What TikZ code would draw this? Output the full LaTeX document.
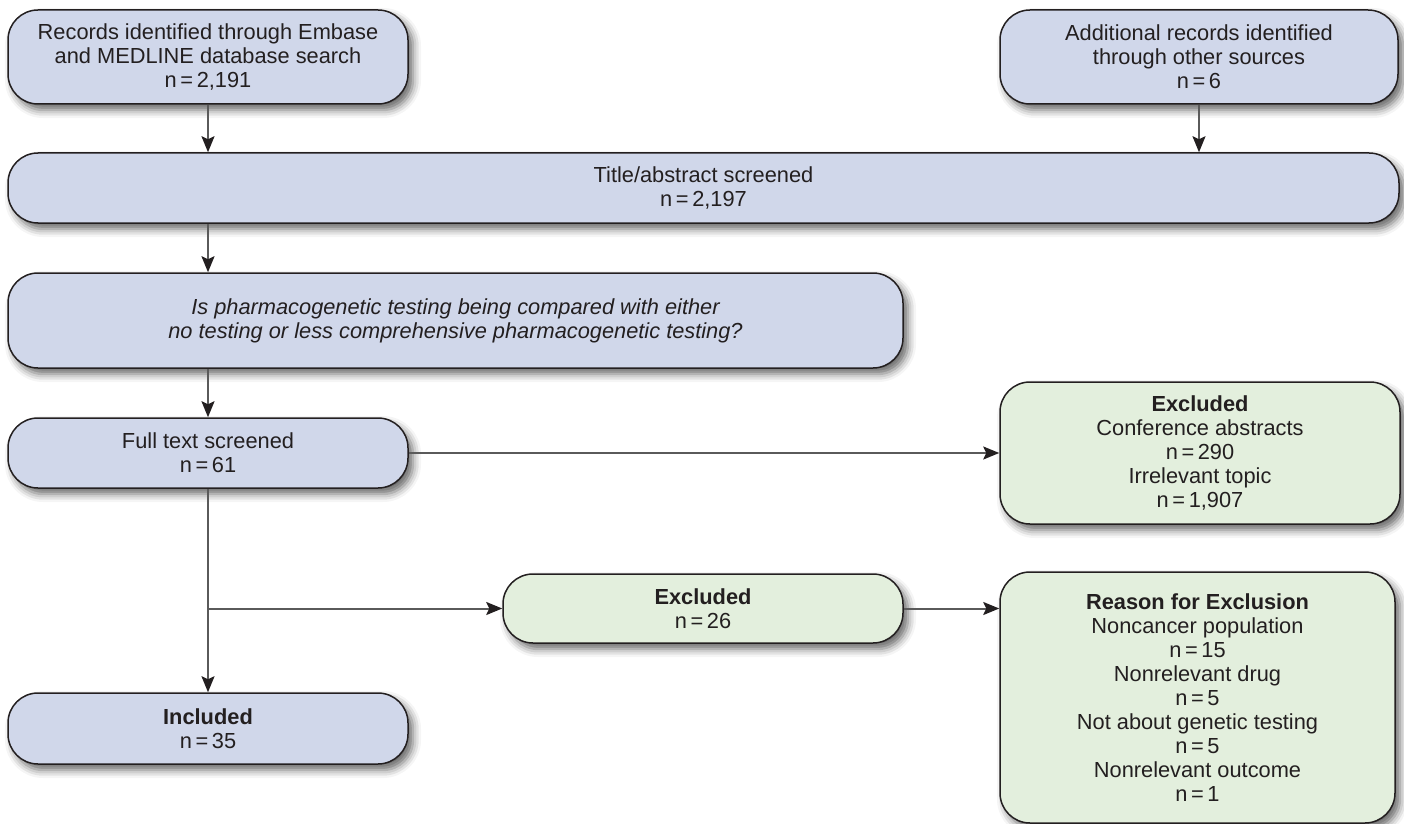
\documentclass[tikz,border=0pt]{standalone}
\usepackage{fontspec}
\setmainfont{Liberation Sans}
\usepackage{tikz}
\usetikzlibrary{arrows.meta,shadows.blur}

\definecolor{boxblue}{RGB}{208,215,234}
\definecolor{boxgreen}{RGB}{227,239,221}
\definecolor{linegray}{RGB}{90,90,90}
\definecolor{inkdark}{RGB}{35,31,32}

\tikzset{
	flowbox/.style={draw=inkdark, line width=0.75pt, rounded corners=15pt, align=center,
		text=inkdark, inner sep=0pt, font=\fontsize{10.9}{12}\selectfont,
		blur shadow={shadow xshift=2.5pt, shadow yshift=-3pt, shadow blur radius=4pt, shadow opacity=60}},
	bluebox/.style={flowbox, fill=boxblue},
	greenbox/.style={flowbox, fill=boxgreen},
	flowarrow/.style={draw=linegray, line width=1pt, -{Stealth[length=8pt, width=6.5pt, inset=1.5pt, color=inkdark]}},
	flowline/.style={draw=linegray, line width=1pt}
}

\begin{document}
\begin{tikzpicture}[x=0.5pt, y=-0.5pt]
				\useasboundingbox (0,0) rectangle (1404,824);
				% identification
				\node[bluebox, minimum width=200pt, minimum height=47pt] (records) at (208,57) {Records identified through Embase\\and MEDLINE database search\\n\,=\,2,191};
				\node[bluebox, minimum width=199pt, minimum height=47pt] (other) at (1199,57) {Additional records identified\\through other sources\\n\,=\,6};
				% screening
				\node[bluebox, minimum width=695.5pt, minimum height=35pt] (title) at (703.5,188) {Title/abstract screened\\n\,=\,2,197};
				\node[bluebox, minimum width=447.5pt, minimum height=47.5pt] (question) at (455.5,320.5) {\itshape Is pharmacogenetic testing being compared with either\\\itshape no testing or less comprehensive pharmacogenetic testing?};
				\node[bluebox, minimum width=200pt, minimum height=35pt] (fulltext) at (208,453) {Full text screened\\n\,=\,61};
				\node[greenbox, minimum width=200pt, minimum height=71pt] (exclA) at (1200,453) {\textbf{Excluded}\\Conference abstracts\\n\,=\,290\\Irrelevant topic\\n\,=\,1,907};
				\node[greenbox, minimum width=200pt, minimum height=34.5pt] (exclB) at (703,608.5) {\textbf{Excluded}\\n\,=\,26};
				\node[greenbox, minimum width=197.5pt, minimum height=125.5pt] (reasons) at (1197.5,697.5) {\textbf{Reason for Exclusion}\\Noncancer population\\n\,=\,15\\Nonrelevant drug\\n\,=\,5\\Not about genetic testing\\n\,=\,5\\Nonrelevant outcome\\n\,=\,1};
				% included
				\node[bluebox, minimum width=200pt, minimum height=35.5pt] (included) at (208,728.5) {\textbf{Included}\\n\,=\,35};
				% connectors
				\draw[flowarrow] (records.south) -- (records.south |- title.north);
				\draw[flowarrow] (other.south) -- (other.south |- title.north);
				\draw[flowarrow] (fulltext |- title.south) -- (fulltext |- question.north);
				\draw[flowarrow] (fulltext |- question.south) -- (fulltext.north);
				\draw[flowarrow] (fulltext.east) -- (exclA.west);
				\draw[flowarrow] (fulltext.south) -- (included.north);
				\draw[flowarrow] (fulltext.south |- exclB.west) -- (exclB.west);
				\draw[flowarrow] (exclB.east) -- (exclB.east -| reasons.west);
		\end{tikzpicture}
\end{document}
